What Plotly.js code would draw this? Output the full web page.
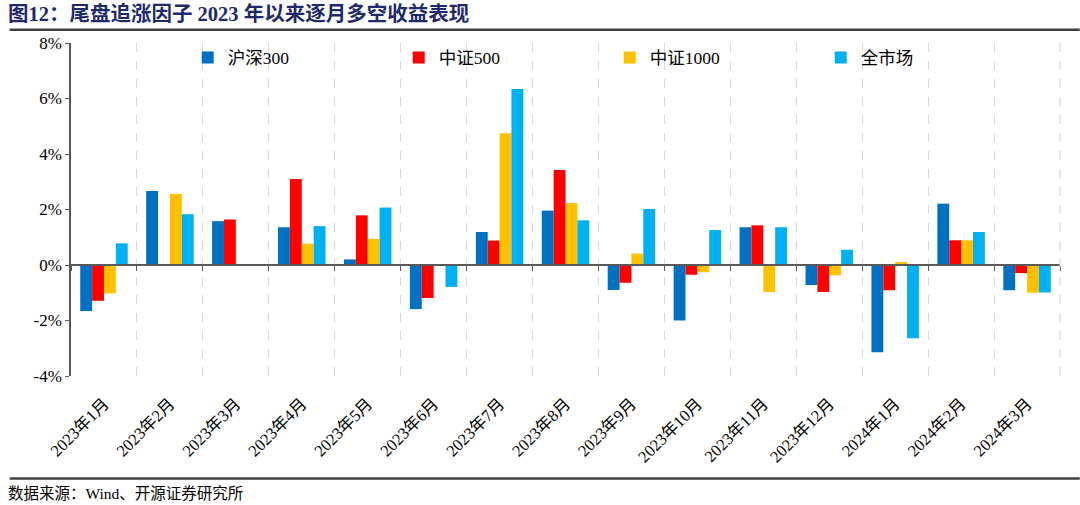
<!DOCTYPE html>
<html>
<head>
<meta charset="utf-8">
<script src="https://cdn.plot.ly/plotly-3.0.1.min.js"></script>
<style>html,body{margin:0;padding:0;background:#fff;}#chart{width:1080px;height:505px;}</style>
</head>
<body>
<div id="chart"></div>
<script>
const months = ["2023年1月","2023年2月","2023年3月","2023年4月","2023年5月","2023年6月","2023年7月","2023年8月","2023年9月","2023年10月","2023年11月","2023年12月","2024年1月","2024年2月","2024年3月"];
const hs300  = [-1.66, 2.67, 1.58, 1.36, 0.20, -1.59, 1.19, 1.96, -0.90, -2.00, 1.36, -0.72, -3.14, 2.21, -0.91];
const zz500  = [-1.29, 0.00, 1.64, 3.10, 1.79, -1.19, 0.88, 3.42, -0.64, -0.35, 1.43, -0.97, -0.91, 0.89, -0.29];
const zz1000 = [-1.02, 2.56, 0.01, 0.77, 0.94, 0.00, 4.75, 2.23, 0.41, -0.26, -0.97, -0.37, 0.11, 0.89, -1.00];
const allMkt = [0.78, 1.83, 0.01, 1.40, 2.07, -0.79, 6.34, 1.61, 2.02, 1.26, 1.36, 0.55, -2.64, 1.19, -0.99];
const seriesNames = ["沪深300","中证500","中证1000","全市场"];
const yTicks = [-4, -2, 0, 2, 4, 6, 8];
const yTickLabels = ["-4%", "-2%", "0%", "2%", "4%", "6%", "8%"];

const colors = ["#0070C0","#FF0000","#FFC000","#00B0F0"];
const FONT = "Liberation Serif, 'Times New Roman', 'Noto Sans CJK SC', serif";
const values = [hs300, zz500, zz1000, allMkt];

const traces = values.map((v, i) => ({
  type: "bar",
  name: seriesNames[i],
  x: months,
  y: v,
  marker: {color: colors[i], line: {width: 0}},
  hoverinfo: "x+y+name"
}));
// helper trace so that the zero-crossing axis (ticks at boundaries) is drawn
traces.push({
  type: "scatter", mode: "markers", x: months, y: months.map(() => null),
  xaxis: "x2", yaxis: "y", showlegend: false, hoverinfo: "skip"
});

const layout = {
  width: 1080, height: 505,
  margin: {l: 71, r: 20, t: 43, b: 129},
  paper_bgcolor: "#fff", plot_bgcolor: "#fff",
  font: {family: FONT, size: 16, color: "#000"},
  barmode: "group", bargap: 0.28, bargroupgap: 0,
  showlegend: true,
  legend: {
    orientation: "h", x: 0.118, y: 1.01, xanchor: "left", yanchor: "top",
    entrywidth: 166, entrywidthmode: "pixels",
    font: {family: FONT, size: 17.5, color: "#000"},
    bgcolor: "rgba(0,0,0,0)", traceorder: "normal"
  },
  xaxis: {
    type: "category", categoryorder: "array", categoryarray: months,
    range: [-0.5, months.length - 0.5],
    tickangle: -45, tickfont: {family: FONT, size: 16.5, color: "#000"},
    ticks: "", tickson: "boundaries", ticklabelstandoff: 14,
    showgrid: true, griddash: "dash", gridcolor: "#d9d9d9", gridwidth: 1.2,
    showline: false, zeroline: false, automargin: false
  },
  xaxis2: {
    type: "category", matches: "x", overlaying: "x", anchor: "free", position: 1/3,
    showticklabels: false, showgrid: false,
    ticks: "outside", ticklen: 5, tickwidth: 1.2, tickcolor: "#595959", tickson: "boundaries",
    showline: true, linecolor: "#595959", linewidth: 1.5
  },
  yaxis: {
    range: [-4, 8], tickvals: yTicks, ticktext: yTickLabels,
    tickfont: {family: FONT, size: 17, color: "#000"},
    showgrid: false, zeroline: false,
    showline: true, linecolor: "#595959", linewidth: 1.5,
    ticks: "outside", ticklen: 4, tickcolor: "#595959"
  },
  shapes: [
    {type: "line", xref: "paper", yref: "paper", x0: 1, x1: 1, y0: 0, y1: 1,
     line: {color: "#d9d9d9", width: 1.2, dash: "dash"}},
    {type: "line", xref: "paper", yref: "paper", x0: -0.062, x1: 1.02, y0: 1.04, y1: 1.04,
     line: {color: "#404040", width: 2.5}},
    {type: "line", xref: "paper", yref: "paper", x0: -0.062, x1: 1.02, y0: -0.308, y1: -0.308,
     line: {color: "#404040", width: 2.5}}
  ],
  annotations: [
    {xref: "paper", yref: "paper", x: -0.066, y: 1.088, xanchor: "left", yanchor: "middle",
     text: "<b>图12：尾盘追涨因子 2023 年以来逐月多空收益表现</b>", showarrow: false,
     font: {family: FONT, size: 20.5, color: "#1F2A6B"}},
    {xref: "paper", yref: "paper", x: -0.066, y: -0.32, xanchor: "left", yanchor: "top",
     text: "数据来源：Wind、开源证券研究所", showarrow: false,
     font: {family: FONT, size: 15.5, color: "#000"}}
  ]
};

Plotly.newPlot("chart", traces, layout, {displayModeBar: false, responsive: false});
</script>
</body>
</html>
